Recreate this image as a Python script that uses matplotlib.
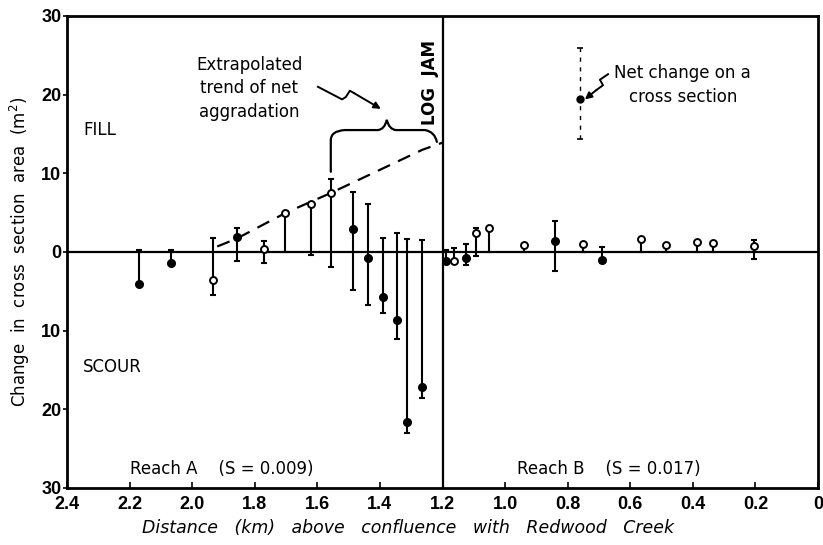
import numpy as np
import matplotlib
matplotlib.use('Agg')
import matplotlib.pyplot as plt
from matplotlib.path import Path
from matplotlib.patches import PathPatch

plt.rcParams['font.family'] = ['DejaVu Sans']

# net change on each cross section (reach A and reach B)
dist = [2.171, 2.068, 1.935, 1.858, 1.770, 1.703, 1.621, 1.557, 1.485, 1.437,
        1.391, 1.345, 1.313, 1.264, 1.190, 1.164, 1.125, 1.093, 1.052, 0.940,
        0.839, 0.750, 0.689, 0.566, 0.487, 0.387, 0.334, 0.205]
net = [-4.1, -1.4, -3.6, 1.95, 0.4, 5.0, 6.1, 7.5, 2.9, -0.8,
       -5.7, -8.7, -21.6, -17.1, -1.2, -1.2, -0.7, 2.4, 3.0, 0.9,
       1.45, 1.05, -1.0, 1.7, 0.9, 1.25, 1.1, 0.8]
hi = [0.2, 0.3, 1.8, 3.0, 1.4, 5.0, 6.1, 9.3, 7.6, 6.1,
      1.8, 2.4, 1.6, 1.5, 0.25, 0.5, 1.0, 3.0, 3.0, 0.9,
      3.9, 1.05, 0.6, 1.7, 0.9, 1.25, 1.1, 1.5]
lo = [-4.1, -1.4, -5.5, -1.15, -1.4, 0.0, -0.4, -1.9, -4.8, -6.8,
      -7.8, -11.0, -23.0, -18.6, -1.2, -1.2, -1.65, -0.5, 0.0, 0.0,
      -2.4, 0.0, -1.45, 0.0, 0.0, 0.0, 0.0, -0.9]
filled = [1, 1, 0, 1, 0, 0, 0, 0, 1, 1,
          1, 1, 1, 1, 1, 0, 1, 0, 0, 0,
          1, 0, 1, 0, 0, 0, 0, 0]

# extrapolated trend of net aggradation
trend_x = [1.92, 1.858, 1.70, 1.557, 1.264, 1.2]
trend_y = [0.7, 1.7, 5.0, 7.5, 13.0, 13.9]

# key symbol
key_x, key_y, key_lo, key_hi = 0.759, 19.5, 14.4, 25.9

log_jam = 1.2
xticks = [2.4, 2.2, 2.0, 1.8, 1.6, 1.4, 1.2, 1.0, 0.8, 0.6, 0.4, 0.2, 0.0]
xlabels = ['2.4', '2.2', '2.0', '1.8', '1.6', '1.4', '1.2', '1.0', '0.8', '0.6', '0.4', '0.2', '0']
yticks = [-30, -20, -10, 0, 10, 20, 30]
ylabels = ['30', '20', '10', '0', '10', '20', '30']

fig = plt.figure(figsize=(8.23, 5.45), dpi=100)
ax = fig.add_axes([67 / 823, 57 / 545, 751 / 823, 472 / 545])
ax.set_xlim(2.4, 0)
ax.set_ylim(-30, 30)

ax.axhline(0, color='black', lw=1.6, zorder=1)
ax.axvline(log_jam, color='black', lw=1.6, zorder=1)

d = np.array(dist)
v = np.array(net)
f = np.array(filled, dtype=bool)
yerr = [v - np.array(lo), np.array(hi) - v]
ax.errorbar(d, v, yerr=yerr, fmt='none', ecolor='black', elinewidth=1.5,
            capsize=2.5, capthick=1.5, zorder=2)
ax.plot(d[f], v[f], 'o', ms=5.5, mfc='black', mec='black', zorder=3)
ax.plot(d[~f], v[~f], 'o', ms=5, mfc='white', mec='black', mew=1.4, zorder=3)

ax.plot(trend_x, trend_y, color='black', lw=1.6, dashes=(6, 4), zorder=2)

# key symbol with dashed range
ax.plot([key_x, key_x], [key_lo, key_hi], color='black', lw=1.0, dashes=(3, 4))
ax.plot([key_x], [key_hi], marker='_', ms=4, mew=1.2, color='black')
ax.plot([key_x], [key_lo], marker='_', ms=4, mew=1.2, color='black')
ax.plot([key_x], [key_y], 'o', ms=5, color='black')

# brace over the trend
bx = [1.557, 1.557, 1.557, 1.512, 1.406, 1.385, 1.378, 1.371, 1.349, 1.256, 1.225, 1.218]
by = [10.2, 14.2, 15.4, 15.5, 15.5, 15.6, 16.8, 15.6, 15.5, 15.5, 15.3, 14.0]
codes = [Path.MOVETO, Path.LINETO, Path.CURVE3, Path.CURVE3, Path.LINETO,
         Path.CURVE3, Path.CURVE3, Path.CURVE3, Path.CURVE3, Path.LINETO,
         Path.CURVE3, Path.CURVE3]
ax.add_patch(PathPatch(Path(np.column_stack([bx, by]), codes), fill=False,
                       lw=1.6, edgecolor='black', capstyle='round'))

# squiggly pointer arrows
sq1_x = [1.598, 1.521, 1.509, 1.496, 1.483, 1.397]
sq1_y = [21.0, 19.4, 19.7, 20.5, 20.2, 18.2]
sq2_x = [0.671, 0.697, 0.687, 0.708, 0.745]
sq2_y = [22.6, 21.9, 21.2, 20.6, 19.4]
for sx, sy in [(sq1_x, sq1_y), (sq2_x, sq2_y)]:
    ax.plot(sx[:-1], sy[:-1], color='black', lw=1.4, solid_joinstyle='round')
    ax.annotate('', xy=(sx[-1], sy[-1]), xytext=(sx[-2], sy[-2]),
                arrowprops=dict(arrowstyle='-|>', color='black', lw=1.4,
                                mutation_scale=10, shrinkA=0, shrinkB=0))

txt = dict(color='black', fontsize=12)
ax.text(2.349, 15.5, 'FILL', ha='left', va='center', **txt)
ax.text(2.349, -14.6, 'SCOUR', ha='left', va='center', **txt)
ax.text(2.2, -27.6, 'Reach A    (S = 0.009)', ha='left', va='center', **txt)
ax.text(0.963, -27.6, 'Reach B    (S = 0.017)', ha='left', va='center', **txt)
ax.text(1.818, 20.8, 'Extrapolated\ntrend of net\naggradation', ha='center',
        va='center', linespacing=1.4, **txt)
ax.text(0.432, 21.2, 'Net change on a\ncross section', ha='center',
        va='center', linespacing=1.4, **txt)
ax.text(1.212, 27.0, 'LOG  JAM', rotation=90, ha='right', va='top',
        color='black', fontsize=12, fontweight='bold')

ax.set_xticks(xticks)
ax.set_xticklabels(xlabels)
ax.set_yticks(yticks)
ax.set_yticklabels(ylabels)
ax.tick_params(axis='x', direction='in', length=4, width=1.2, pad=6)
ax.tick_params(axis='y', direction='out', length=3, width=1.2, pad=1)
for lab in ax.get_xticklabels() + ax.get_yticklabels():
    lab.set_fontfamily('Liberation Sans')
    lab.set_fontweight('bold')
    lab.set_fontsize(13)
for sp in ax.spines.values():
    sp.set_linewidth(2.0)

ax.set_ylabel('Change  in  cross  section  area  (m$^2$)', fontsize=12)
ax.yaxis.set_label_coords(-0.047, 0.5)
fig.text(408 / 823, 1 - 528 / 545,
         'Distance   (km)   above   confluence   with   Redwood   Creek',
         ha='center', va='center', fontsize=12.5, style='italic')

fig.savefig('out.png', dpi=100)
